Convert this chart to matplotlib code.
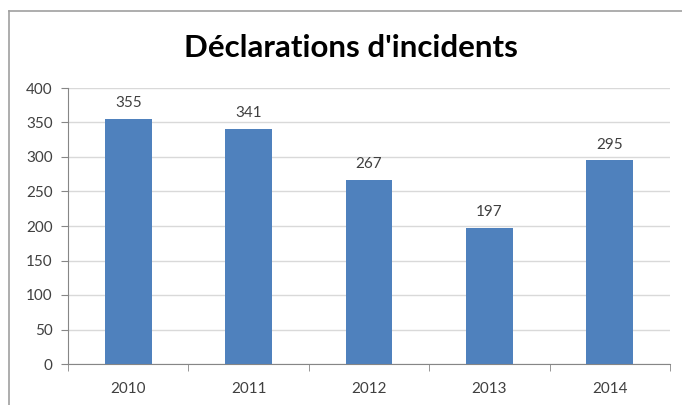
import matplotlib.pyplot as plt
from matplotlib.lines import Line2D

years = ["2010", "2011", "2012", "2013", "2014"]
incidents = [355, 341, 267, 197, 295]
y_ticks = [0, 50, 100, 150, 200, 250, 300, 350, 400]

bar_color = "#4F81BD"
text_color = "#404040"
grid_color = "#D9D9D9"
axis_color = "#868686"
font = "Lato"

fig = plt.figure(figsize=(6.82, 4.05), dpi=100)
ax = fig.add_axes([68 / 682, 1 - 364 / 405, (670 - 68) / 682, (364 - 88) / 405])

positions = list(range(len(years)))
ax.bar(positions, incidents, width=0.39, color=bar_color, zorder=3)

for x, v in zip(positions, incidents):
    ax.annotate(str(v), (x, v), xytext=(0, 8.6), textcoords="offset points",
                ha="center", va="baseline", fontsize=11, color=text_color,
                family=font)

ax.set_xlim(-0.5, len(years) - 0.5)
ax.set_ylim(0, 400)
ax.set_yticks(y_ticks)
ax.set_yticklabels([str(t) for t in y_ticks], family=font, fontsize=11, color=text_color)

# category labels centered, ticks on category boundaries
ax.set_xticks(positions)
ax.set_xticklabels(years, family=font, fontsize=11, color=text_color)
ax.tick_params(axis="x", length=0, pad=13)
ax.set_xticks([p - 0.5 for p in range(len(years) + 1)], minor=True)
ax.tick_params(axis="x", which="minor", length=5, color=axis_color, direction="out")
ax.tick_params(axis="y", length=5, color=axis_color, direction="out", pad=6)

ax.yaxis.grid(True, color=grid_color, linewidth=1, zorder=0)
ax.set_axisbelow(True)
for side in ["top", "right"]:
    ax.spines[side].set_visible(False)
ax.spines["left"].set_color(axis_color)
ax.spines["bottom"].set_color(axis_color)

fig.text(351 / 682, 1 - 57 / 405, "Déclarations d'incidents", ha="center", va="baseline",
         fontsize=22.5, fontweight="bold", family=font, color="#000000")

# chart frame (top and left edges visible)
fig.add_artist(Line2D([9 / 682, 1.0], [1 - 11 / 405, 1 - 11 / 405], color="#A0A0A0", linewidth=1.2))
fig.add_artist(Line2D([9 / 682, 9 / 682], [0.0, 1 - 11 / 405], color="#A0A0A0", linewidth=1.2))

fig.savefig("out.png", dpi=100)
